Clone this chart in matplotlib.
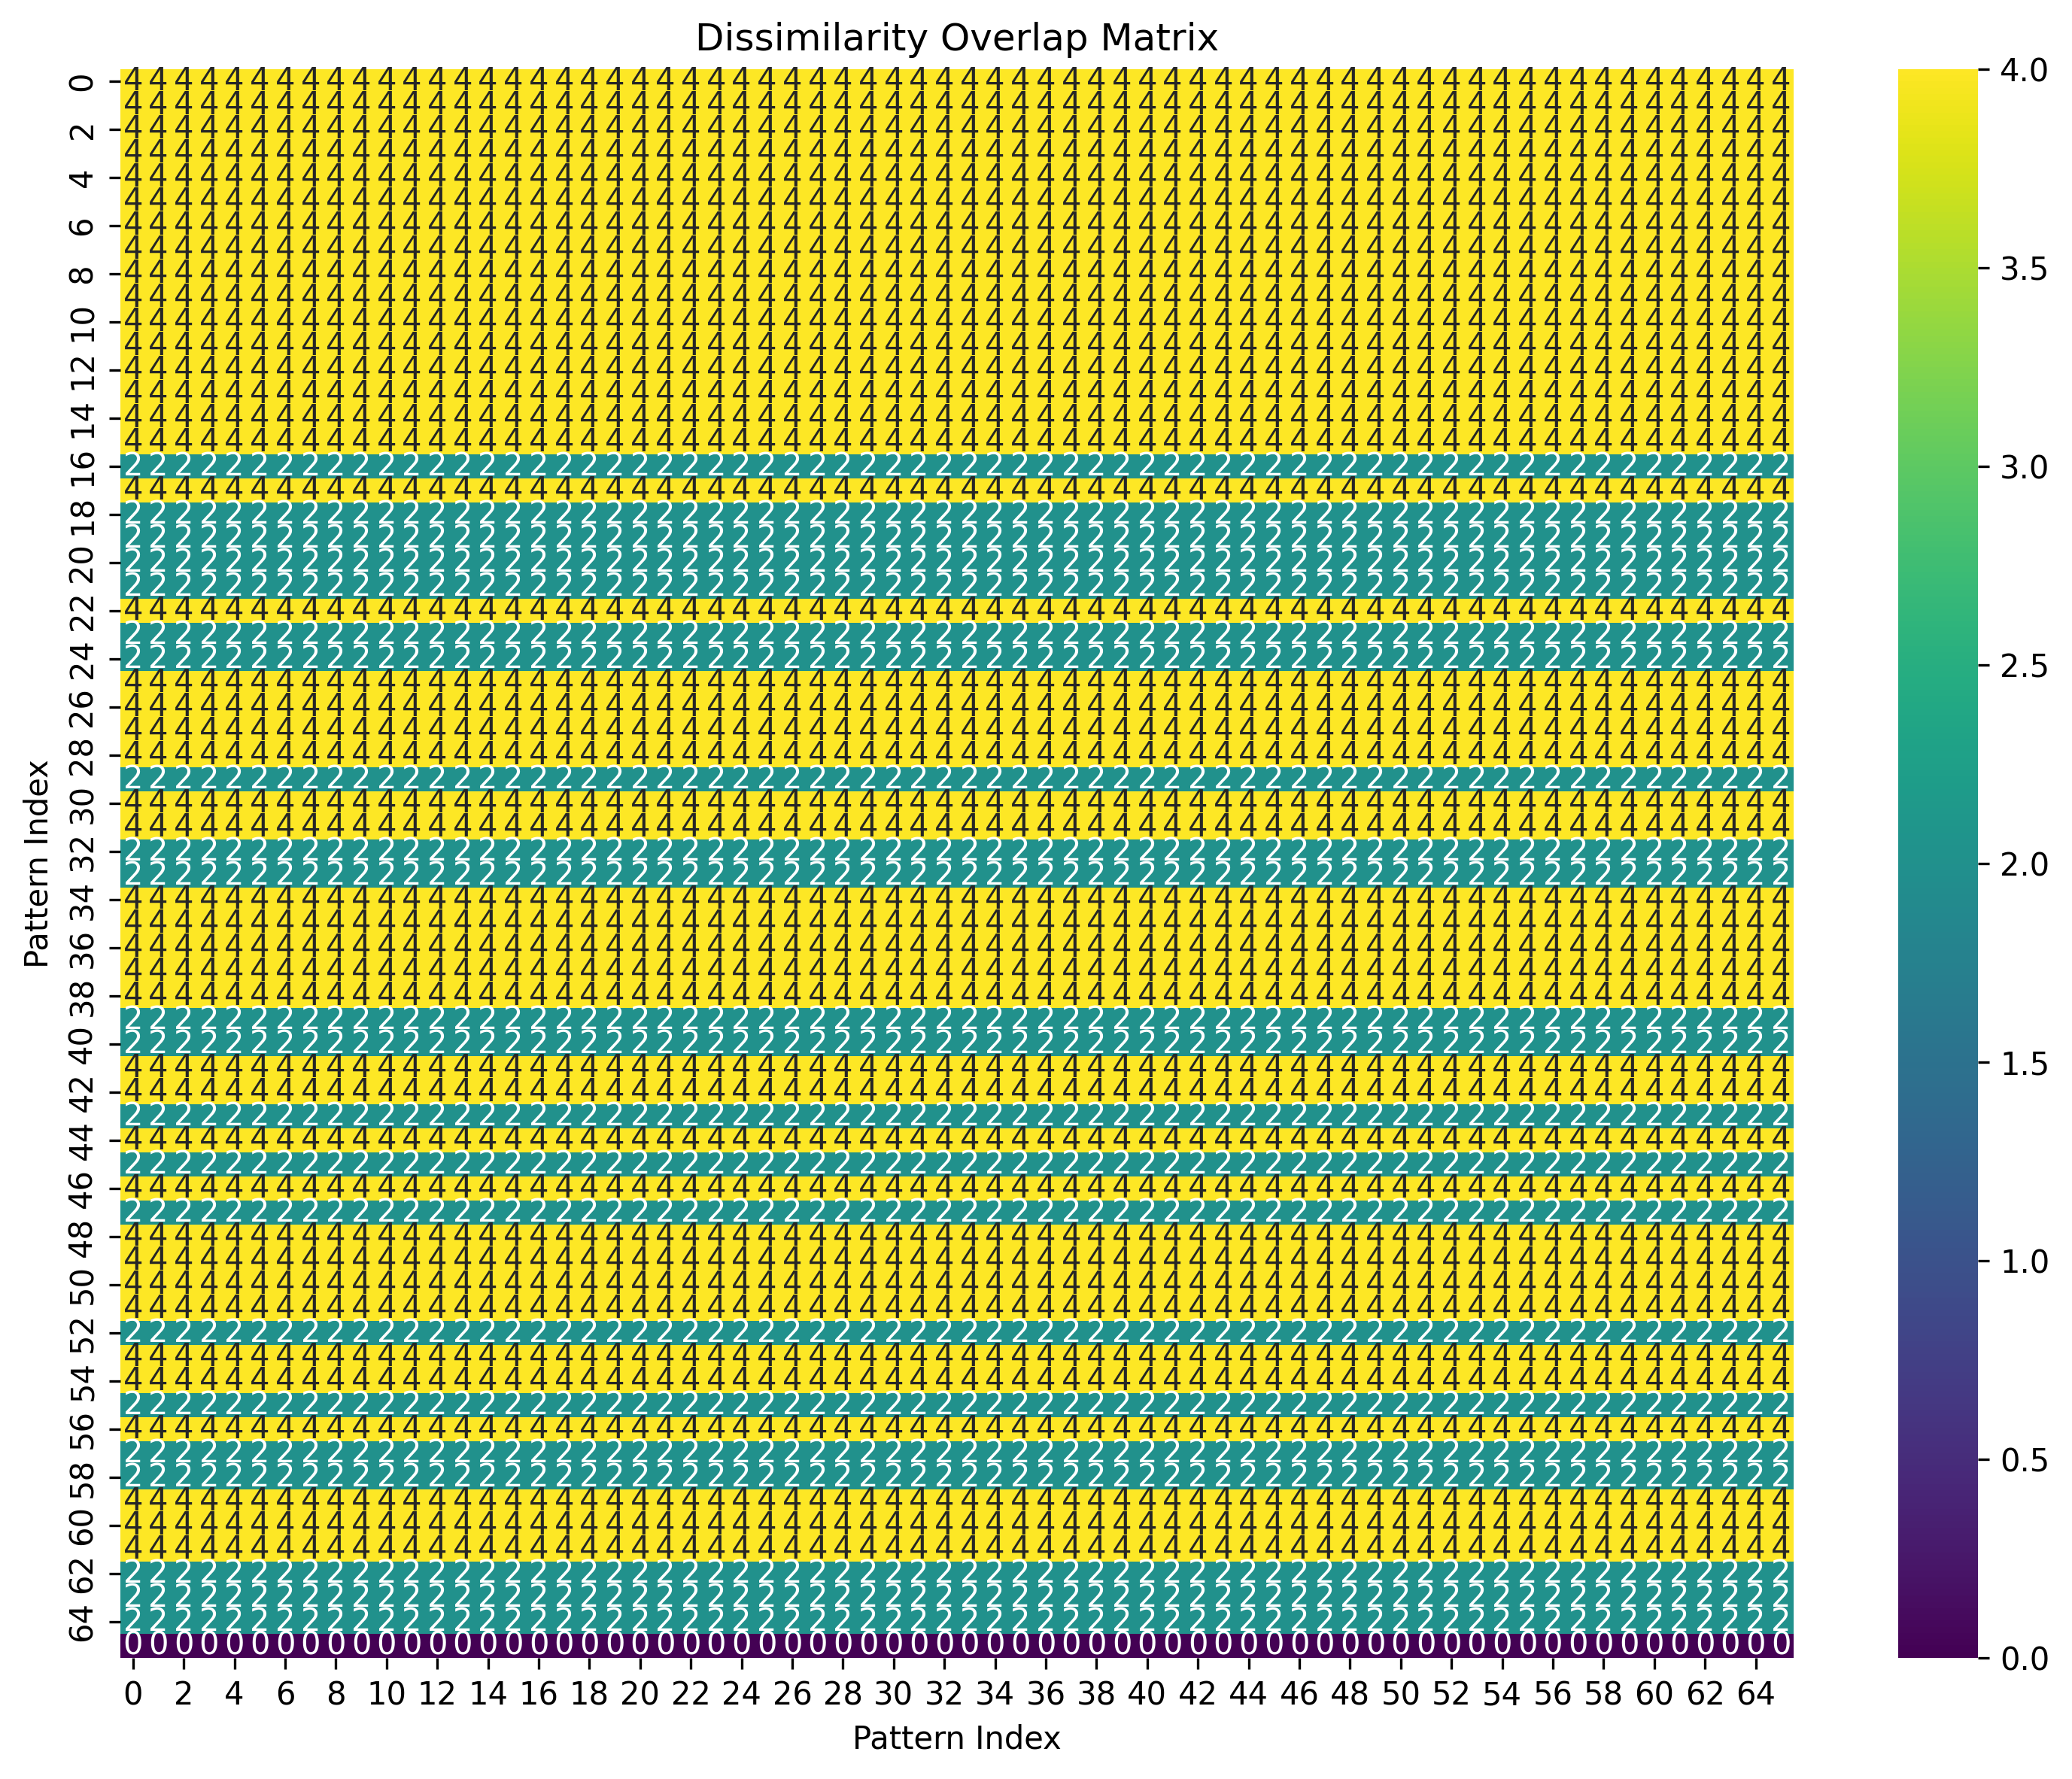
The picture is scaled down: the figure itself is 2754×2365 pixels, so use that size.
import numpy as np
import matplotlib
matplotlib.use("Agg")
import matplotlib.pyplot as plt
import seaborn as sns

# value of each pattern row (every column in a row holds the same value)
row_values = [4] * 16 + [2, 4] + [2] * 4 + [4] + [2] * 2 + [4] * 4 + [2] + [4] * 2 \
    + [2] * 2 + [4] * 5 + [2] * 2 + [4] * 2 + [2, 4, 2, 4, 2] + [4] * 4 + [2] \
    + [4] * 2 + [2, 4] + [2] * 2 + [4] * 3 + [2] * 3 + [0]
n_cols = 66

matrix = np.array([[v] * n_cols for v in row_values])

fig = plt.figure(figsize=(9.18, 7.8834), dpi=300)
ax = fig.add_axes([0.0581, 0.0681, 0.8076, 0.8930])
cax = fig.add_axes([0.9161, 0.0681, 0.0385, 0.8930])
sns.heatmap(matrix, annot=True, fmt="d", cmap="viridis", ax=ax, cbar_ax=cax)
ax.set_title("Dissimilarity Overlap Matrix")
ax.set_xlabel("Pattern Index")
ax.set_ylabel("Pattern Index")
plt.savefig("out.png", dpi=300)
